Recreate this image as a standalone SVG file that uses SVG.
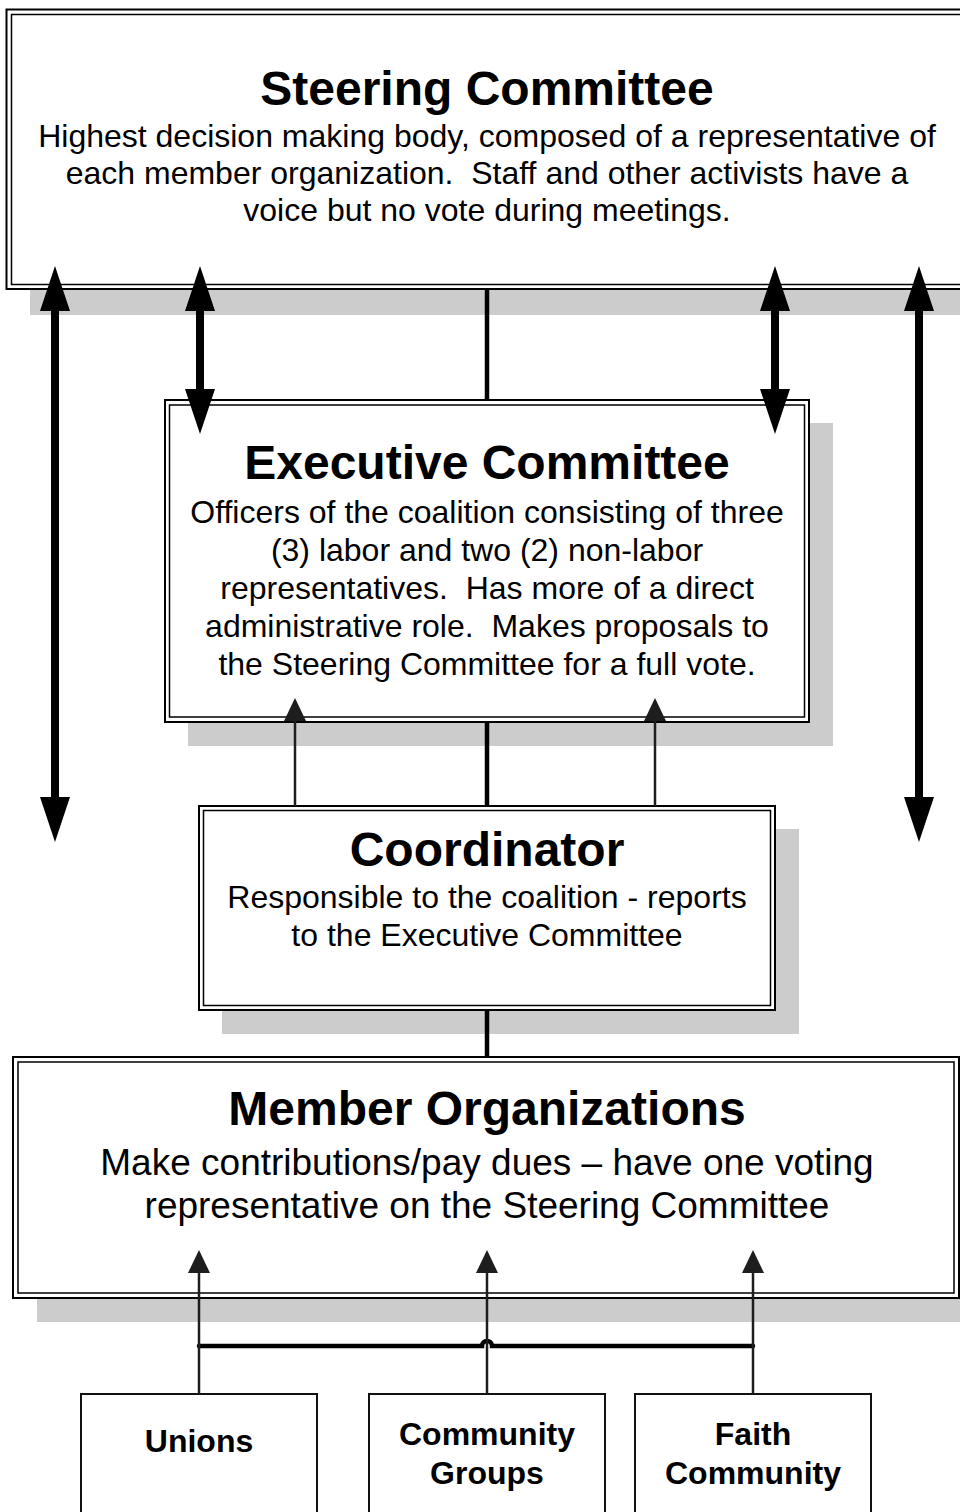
<svg xmlns="http://www.w3.org/2000/svg" width="960" height="1512" viewBox="0 0 960 1512">
  <style>
    .shadow { fill: #cccccc; stroke: none; }
    .outer { fill: #ffffff; stroke: #000000; stroke-width: 2; }
    .inner { fill: none; stroke: #000000; stroke-width: 1.5; }
    .plain { fill: #ffffff; stroke: #111111; stroke-width: 2; }
    .title { font-family: "Liberation Sans", Arial, sans-serif; font-weight: bold; font-size: 48px; fill: #000000; text-anchor: middle; }
    .body { font-family: "Liberation Sans", Arial, sans-serif; font-size: 32px; fill: #000000; text-anchor: middle; white-space: pre; }
    .small { font-family: "Liberation Sans", Arial, sans-serif; font-weight: bold; font-size: 32px; fill: #000000; text-anchor: middle; }
    .thick { stroke: #000000; stroke-width: 4.5; fill: none; }
    .big { stroke: #000000; stroke-width: 8; fill: none; marker-start: url(#bigHead); marker-end: url(#bigHead); }
    .thin { stroke: #1e1e1e; stroke-width: 2.5; fill: none; marker-end: url(#smallHead); }
  </style>
  <defs>
    <marker id="bigHead" markerUnits="userSpaceOnUse" viewBox="0 0 45 30" markerWidth="45" markerHeight="30" refX="0" refY="15" orient="auto-start-reverse">
      <path d="M0,0 L45,15 L0,30 z" fill="#000000"/>
    </marker>
    <marker id="smallHead" markerUnits="userSpaceOnUse" viewBox="0 0 23 22" markerWidth="23" markerHeight="22" refX="0" refY="11" orient="auto">
      <path d="M0,0 L23,11 L0,22 z" fill="#1e1e1e"/>
    </marker>
  </defs>

  <!-- Steering Committee -->
  <g id="steering">
    <rect class="shadow" x="30" y="34" width="960" height="281"/>
    <rect class="outer" x="6.5" y="9.5" width="970" height="279.5"/>
    <rect class="inner" x="11.5" y="14.5" width="960" height="270"/>
    <text class="title" x="487" y="105">Steering Committee</text>
    <text class="body" x="487" y="147">Highest decision making body, composed of a representative of</text>
    <text class="body" x="487" y="184">each member organization.  Staff and other activists have a</text>
    <text class="body" x="487" y="221">voice but no vote during meetings.</text>
  </g>

  <!-- Executive Committee -->
  <g id="executive">
    <rect class="shadow" x="188" y="423" width="645" height="323"/>
    <rect class="outer" x="165" y="400" width="644" height="322"/>
    <rect class="inner" x="169.5" y="405" width="635" height="312"/>
    <text class="title" x="487" y="479">Executive Committee</text>
    <text class="body" x="487" y="523">Officers of the coalition consisting of three</text>
    <text class="body" x="487" y="561">(3) labor and two (2) non-labor</text>
    <text class="body" x="487" y="599">representatives.  Has more of a direct</text>
    <text class="body" x="487" y="637">administrative role.  Makes proposals to</text>
    <text class="body" x="487" y="675">the Steering Committee for a full vote.</text>
  </g>

  <!-- Coordinator -->
  <g id="coordinator">
    <rect class="shadow" x="222" y="829" width="577" height="205"/>
    <rect class="outer" x="199" y="806" width="576" height="204"/>
    <rect class="inner" x="203.5" y="810.5" width="567" height="195"/>
    <text class="title" x="487" y="866">Coordinator</text>
    <text class="body" x="487" y="908">Responsible to the coalition - reports</text>
    <text class="body" x="487" y="946">to the Executive Committee</text>
  </g>

  <!-- Member Organizations -->
  <g id="members">
    <rect class="shadow" x="37" y="1081" width="946" height="241"/>
    <rect class="outer" x="13" y="1057" width="946" height="241"/>
    <rect class="inner" x="18" y="1062" width="936" height="231"/>
    <text class="title" x="487" y="1125">Member Organizations</text>
    <text class="body" style="font-size:37px" x="487" y="1175">Make contributions/pay dues – have one voting</text>
    <text class="body" style="font-size:37px" x="487" y="1218">representative on the Steering Committee</text>
  </g>

  <!-- Member groups -->
  <g id="unions">
    <rect class="plain" x="81" y="1394" width="236" height="140"/>
    <text class="small" x="199" y="1452">Unions</text>
  </g>
  <g id="community-groups">
    <rect class="plain" x="369" y="1394" width="236" height="140"/>
    <text class="small" x="487" y="1445">Community</text>
    <text class="small" x="487" y="1484">Groups</text>
  </g>
  <g id="faith-community">
    <rect class="plain" x="635" y="1394" width="236" height="140"/>
    <text class="small" x="753" y="1445">Faith</text>
    <text class="small" x="753" y="1484">Community</text>
  </g>

  <!-- Connectors -->
  <g id="connectors">
    <!-- chain of command down the middle -->
    <line class="thick" x1="487" y1="290" x2="487" y2="400"/>
    <line class="thick" x1="487" y1="722" x2="487" y2="806"/>
    <line class="thick" x1="487" y1="1010" x2="487" y2="1057"/>

    <!-- two-way links between Steering and Executive -->
    <line class="big" x1="200" y1="311" x2="200" y2="389"/>
    <line class="big" x1="775" y1="311" x2="775" y2="389"/>

    <!-- long two-way links on the outside -->
    <line class="big" x1="55" y1="311" x2="55" y2="797"/>
    <line class="big" x1="919" y1="311" x2="919" y2="797"/>

    <!-- Coordinator reporting up to Executive -->
    <line class="thin" x1="295" y1="806" x2="295" y2="721"/>
    <line class="thin" x1="655" y1="806" x2="655" y2="721"/>

    <!-- member groups feeding Member Organizations -->
    <path class="thick" style="stroke-linecap:round" d="M199,1346 H482 A5,5 0 0 1 492,1346 H753"/>
    <line class="thin" x1="199" y1="1394" x2="199" y2="1273"/>
    <line class="thin" x1="487" y1="1394" x2="487" y2="1273"/>
    <line class="thin" x1="753" y1="1394" x2="753" y2="1273"/>
  </g>
</svg>
